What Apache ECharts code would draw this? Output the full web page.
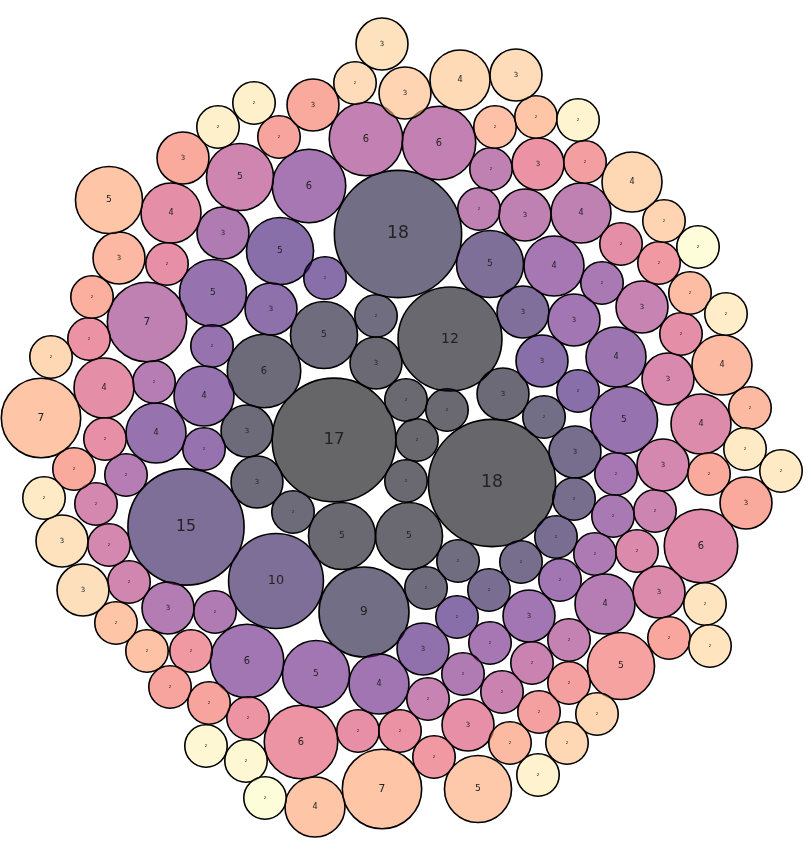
<!DOCTYPE html>
<html>
<head>
<meta charset="utf-8">
<script src="https://cdn.jsdelivr.net/npm/echarts@6/dist/echarts.min.js"></script>
<style>
  html, body { margin: 0; background: #fff; }
  #chart { width: 811px; height: 846px; }
</style>
</head>
<body>
<div id="chart"></div>
<script>
// bubble centres (layout units), values and position in packing sequence (0 = first, 1 = last)
const cx = [
  334, 492, 450, 398, 342, 409, 406, 417, 406, 447, 503, 376, 376, 324, 264, 247, 257, 293, 426, 458,
  364, 544, 575, 574, 521, 556, 489, 276, 186, 490, 523,
  280, 325, 271, 542, 578, 457, 423, 213, 212, 204, 204, 156, 624, 616, 379, 316, 247, 529, 560,
  574, 309, 554, 490, 616, 602, 613, 595, 223, 215, 463, 168, 154, 126, 605,
  147, 366, 439, 491, 479, 525, 581, 569, 428, 642, 532, 502, 655, 240, 129, 96, 109, 663, 668,
  637, 659, 701, 701,
  171, 167, 104, 105, 621, 681, 358, 468, 538, 89, 400, 248, 301, 191, 659, 434, 585, 569, 539, 621,
  279, 170, 209, 669, 183, 313, 74, 709, 746, 92, 119, 722, 750, 510, 690, 495,
  147, 116, 536, 109, 41, 315, 382, 478, 405, 664, 632, 51, 597, 567, 460, 355, 516, 83, 62, 382,
  705, 710,
  44, 745, 781, 726, 254, 218, 538, 578, 206, 246, 698, 265
];
const cy = [
  440, 483, 339, 234, 536, 536, 400, 440, 481, 410, 394, 363, 316, 335, 371, 431, 482, 512, 588, 561,
  612, 417, 452, 499, 562, 537, 590, 581, 527, 264, 312,
  251, 278, 309, 361, 391, 617, 649, 293, 346, 396, 449, 433, 420, 357, 684, 674, 661, 616, 580,
  320, 186, 266, 643, 474, 283, 516, 554, 233, 612, 674, 608, 382, 475, 604,
  322, 139, 143, 169, 209, 215, 213, 640, 699, 307, 663, 692, 511, 177, 582, 504, 545, 465, 379,
  551, 592, 424, 546,
  213, 264, 388, 439, 244, 334, 731, 725, 164, 339, 731, 718, 742, 651, 263, 757, 162, 683, 712, 666,
  137, 687, 703, 638, 158, 105, 469, 474, 503, 297, 258, 365, 408, 743, 293, 127,
  651, 623, 117, 200, 418, 807, 789, 789, 93, 221, 182, 357, 714, 743, 80, 83, 75, 590, 541, 44,
  604, 646,
  498, 449, 471, 314, 103, 127, 775, 120, 746, 761, 247, 798
];
const sizes = [
  17, 18, 12, 18, 5, 5, 2, 2, 2, 2, 3, 3, 2, 5, 6, 3, 3, 2, 2, 2,
  9, 2, 3, 2, 2, 2, 2, 10, 15, 5, 3,
  5, 2, 3, 3, 2, 2, 3, 5, 2, 4, 2, 4, 5, 4, 4, 5, 6, 3, 2,
  3, 6, 4, 2, 2, 2, 2, 2, 3, 2, 2, 3, 2, 2, 4,
  7, 6, 6, 2, 2, 3, 4, 2, 2, 3, 2, 2, 2, 5, 2, 2, 2, 3, 3,
  2, 3, 4, 6,
  4, 2, 4, 2, 2, 2, 2, 3, 3, 2, 2, 2, 6, 2, 2, 2, 2, 2, 2, 5,
  2, 2, 2, 2, 3, 3, 2, 2, 3, 2, 3, 4, 2, 2, 2, 2,
  2, 2, 2, 5, 7, 4, 7, 5, 3, 2, 4, 2, 2, 2, 4, 2, 3, 3, 3, 3,
  2, 2,
  2, 2, 2, 2, 2, 2, 2, 2, 2, 2, 2, 2
];
const order = [
  0.00, 0.01, 0.02, 0.10, 0.03, 0.03, 0.03, 0.02, 0.03, 0.03, 0.05, 0.04, 0.08, 0.07, 0.06, 0.06, 0.06, 0.06, 0.07, 0.08,
  0.10, 0.10, 0.12, 0.12, 0.12, 0.13, 0.13, 0.15, 0.15, 0.15, 0.16,
  0.20, 0.20, 0.22, 0.20, 0.20, 0.20, 0.23, 0.25, 0.25, 0.25, 0.25, 0.25, 0.25, 0.27, 0.29, 0.30, 0.30, 0.30, 0.30,
  0.30, 0.32, 0.32, 0.32, 0.32, 0.33, 0.33, 0.35, 0.36, 0.36, 0.36, 0.37, 0.38, 0.38, 0.38,
  0.42, 0.43, 0.43, 0.42, 0.42, 0.42, 0.42, 0.44, 0.45, 0.45, 0.46, 0.46, 0.47, 0.48, 0.49, 0.50, 0.50, 0.50, 0.52,
  0.53, 0.53, 0.54, 0.55,
  0.57, 0.58, 0.57, 0.58, 0.57, 0.57, 0.58, 0.58, 0.60, 0.60, 0.60, 0.61, 0.61, 0.63, 0.63, 0.63, 0.65, 0.66, 0.66, 0.67,
  0.68, 0.68, 0.68, 0.69, 0.70, 0.70, 0.70, 0.70, 0.70, 0.72, 0.75, 0.76, 0.76, 0.76, 0.77, 0.78,
  0.79, 0.80, 0.80, 0.80, 0.80, 0.80, 0.80, 0.81, 0.85, 0.85, 0.86, 0.86, 0.86, 0.86, 0.87, 0.88, 0.88, 0.89, 0.90, 0.90,
  0.91, 0.91,
  0.93, 0.93, 0.93, 0.94, 0.95, 0.95, 0.96, 0.97, 0.98, 0.98, 1.00, 1.00
];

// magma colormap stops at 0, 0.1, ... 1
const magma = [
  [0, 0, 4], [20, 14, 54], [59, 15, 112], [100, 26, 128], [140, 41, 129], [183, 55, 121],
  [222, 73, 104], [247, 112, 92], [254, 159, 109], [254, 207, 146], [252, 253, 191]
];

function magmaColor(t, alpha) {
  const s = Math.max(0, Math.min(1, t)) * 10;
  const i = Math.min(9, Math.floor(s));
  const f = s - i;
  const a = magma[i], b = magma[i + 1];
  const c = a.map((v, k) => Math.round(v + (b[k] - v) * f));
  return `rgba(${c[0]}, ${c[1]}, ${c[2]}, ${alpha})`;
}

const radius = (v) => 15 * Math.sqrt(v);

const points = sizes.map((v, i) => {
  const r = radius(v);
  return {
    value: [cx[i], cy[i], v],
    symbolSize: 2 * r,
    itemStyle: { color: magmaColor(order[i], 0.6) },
    label: { fontSize: v === 2 ? 4 : Math.round(r * 0.27 * 10) / 10 },
  };
});

const chart = echarts.init(document.getElementById('chart'), null, { renderer: 'canvas' });

chart.setOption({
  animation: false,
  backgroundColor: '#ffffff',
  grid: { left: 0, right: 0, top: 0, bottom: 0 },
  xAxis: { type: 'value', min: 0, max: 811, show: false },
  yAxis: { type: 'value', min: 0, max: 846, inverse: true, show: false },
  series: [
    {
      type: 'scatter',
      symbol: 'circle',
      data: points,
      itemStyle: { borderColor: '#000', borderWidth: 1.6, opacity: 1 },
      label: {
        show: true,
        position: 'inside',
        color: '#222',
        fontFamily: 'DejaVu Sans',
        formatter: (p) => p.value[2],
      },
      emphasis: { disabled: true },
    },
  ],
});
</script>
</body>
</html>
